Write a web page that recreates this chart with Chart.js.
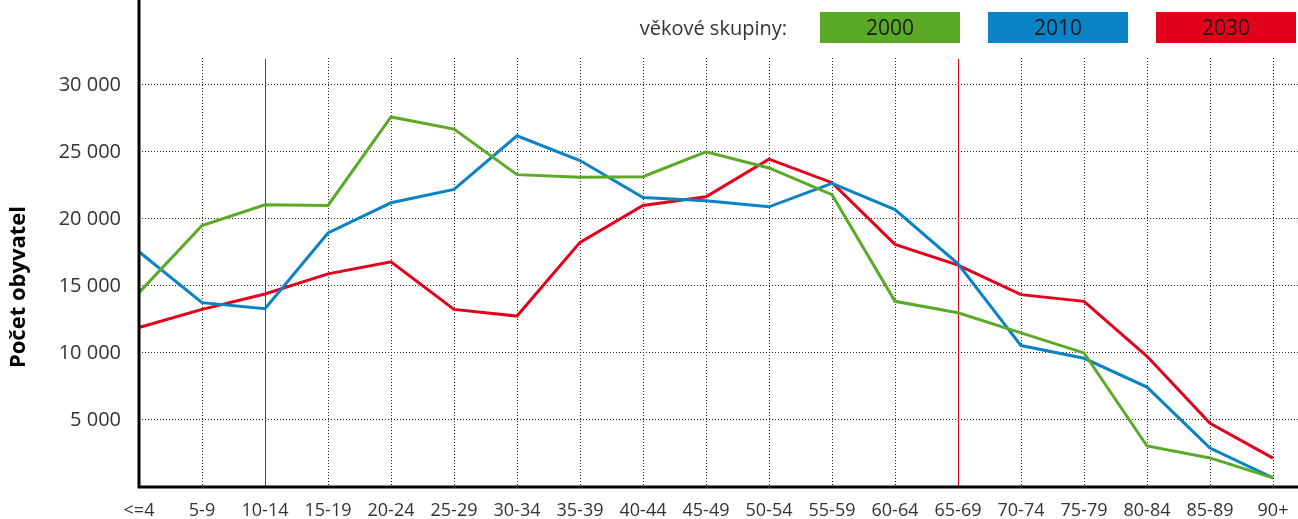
<!DOCTYPE html>
<html>
<head>
<meta charset="utf-8">
<script src="https://cdn.jsdelivr.net/npm/chart.js@4"></script>
<style>body{margin:0;background:#fff}</style>
</head>
<body>
<canvas id="chart" width="1298" height="519"></canvas>
<script>
// data
const ageGroups = ['<=4','5-9','10-14','15-19','20-24','25-29','30-34','35-39','40-44','45-49',
  '50-54','55-59','60-64','65-69','70-74','75-79','80-84','85-89','90+'];
const pop2000 = [14500,19500,21050,21000,27600,26700,23300,23100,23150,25000,23800,21800,13850,13000,11500,10000,3060,2170,680];
const pop2010 = [17550,13750,13300,18950,21200,22200,26200,24350,21600,21350,20900,22650,20700,16650,10550,9600,7450,2900,680];
const pop2030 = [11900,13250,14400,15900,16800,13250,12750,18250,21000,21650,24450,22700,18100,16550,14350,13850,9750,4750,2150];
const seriesNames = ['2000','2010','2030'];
const seriesColors = ['#5AAA28','#0A82C6','#E3001B'];
const yTicks = [5000,10000,15000,20000,25000,30000];
const markedGroups = ['10-14','65-69'];
const legendTitle = 'věkové skupiny:';
const axisTitle = 'Počet obyvatel';

const FONT = '"Open Sans", sans-serif';
const fmt = v => String(v).replace(/\B(?=(\d{3})+(?!\d))/g, ' ');
const al = p => Math.round(p - 0.5) + 0.5;

const decor = {
  id: 'decor',
  beforeDatasetsDraw(chart) {
    const { ctx, chartArea: a, scales: { x, y } } = chart;
    ctx.save();
    // dotted grid
    ctx.strokeStyle = '#222';
    ctx.lineWidth = 1;
    ctx.setLineDash([1, 2]);
    y.ticks.forEach(t => {
      const py = al(y.getPixelForValue(t.value));
      ctx.beginPath(); ctx.moveTo(a.left, py); ctx.lineTo(chart.width, py); ctx.stroke();
    });
    ageGroups.forEach((g, i) => {
      if (i === 0 || markedGroups.includes(g)) return;
      const px = al(x.getPixelForValue(i));
      ctx.beginPath(); ctx.moveTo(px, a.top); ctx.lineTo(px, a.bottom); ctx.stroke();
    });
    // red marker lines
    ctx.setLineDash([]);
    ctx.strokeStyle = '#E3001B';
    markedGroups.forEach(g => {
      const px = al(x.getPixelForValue(ageGroups.indexOf(g)));
      ctx.beginPath(); ctx.moveTo(px, a.top + 1); ctx.lineTo(px, a.bottom); ctx.stroke();
    });
    ctx.restore();
  },
  afterDraw(chart) {
    const { ctx, chartArea: a } = chart;
    ctx.save();
    // axes
    ctx.strokeStyle = '#000';
    ctx.lineWidth = 3;
    ctx.beginPath();
    ctx.moveTo(a.left, 0); ctx.lineTo(a.left, a.bottom); ctx.lineTo(chart.width, a.bottom);
    ctx.stroke();
    // y title
    ctx.fillStyle = '#000';
    ctx.font = 'bold 22px ' + FONT;
    ctx.textAlign = 'center'; ctx.textBaseline = 'middle';
    ctx.translate(19, 287); ctx.rotate(-Math.PI / 2);
    ctx.fillText(axisTitle, 0, 0);
    ctx.setTransform(1, 0, 0, 1, 0, 0);
    // legend
    ctx.font = '20px ' + FONT;
    ctx.fillStyle = '#333';
    ctx.textAlign = 'right';
    ctx.fillText(legendTitle, 787, 29);
    ctx.textAlign = 'center';
    ctx.font = '21px ' + FONT;
    chart.data.datasets.forEach((ds, i) => {
      const bx = 820 + i * 168;
      ctx.fillStyle = ds.borderColor;
      ctx.fillRect(bx, 12, 140, 31);
      ctx.fillStyle = '#1a1a1a';
      ctx.fillText(ds.label, bx + 70, 29);
    });
    ctx.restore();
  }
};

new Chart(document.getElementById('chart'), {
  type: 'line',
  data: {
    labels: ageGroups,
    datasets: [pop2000, pop2010, pop2030].map((d, i) => ({
      label: seriesNames[i],
      data: d,
      borderColor: seriesColors[i],
      backgroundColor: seriesColors[i],
      borderWidth: 3,
      pointRadius: 0,
      tension: 0,
      fill: false
    }))
  },
  options: {
    responsive: false,
    animation: false,
    layout: { padding: { top: 58, right: 25, left: 0, bottom: 0 } },
    plugins: { legend: { display: false }, tooltip: { enabled: false } },
    scales: {
      x: {
        offset: false,
        afterFit: s => { s.height = 32; },
        grid: { display: false },
        border: { display: false },
        ticks: { color: '#333', font: { family: FONT, size: 18 }, padding: 5, maxRotation: 0, autoSkip: false }
      },
      y: {
        min: 0,
        max: 32000,
        afterFit: s => { s.width = 139; },
        afterBuildTicks: s => { s.ticks = yTicks.map(v => ({ value: v })); },
        grid: { display: false },
        border: { display: false },
        ticks: { color: '#333', font: { family: FONT, size: 20 }, padding: 10, callback: v => fmt(v) }
      }
    }
  },
  plugins: [decor]
});
</script>
</body>
</html>
